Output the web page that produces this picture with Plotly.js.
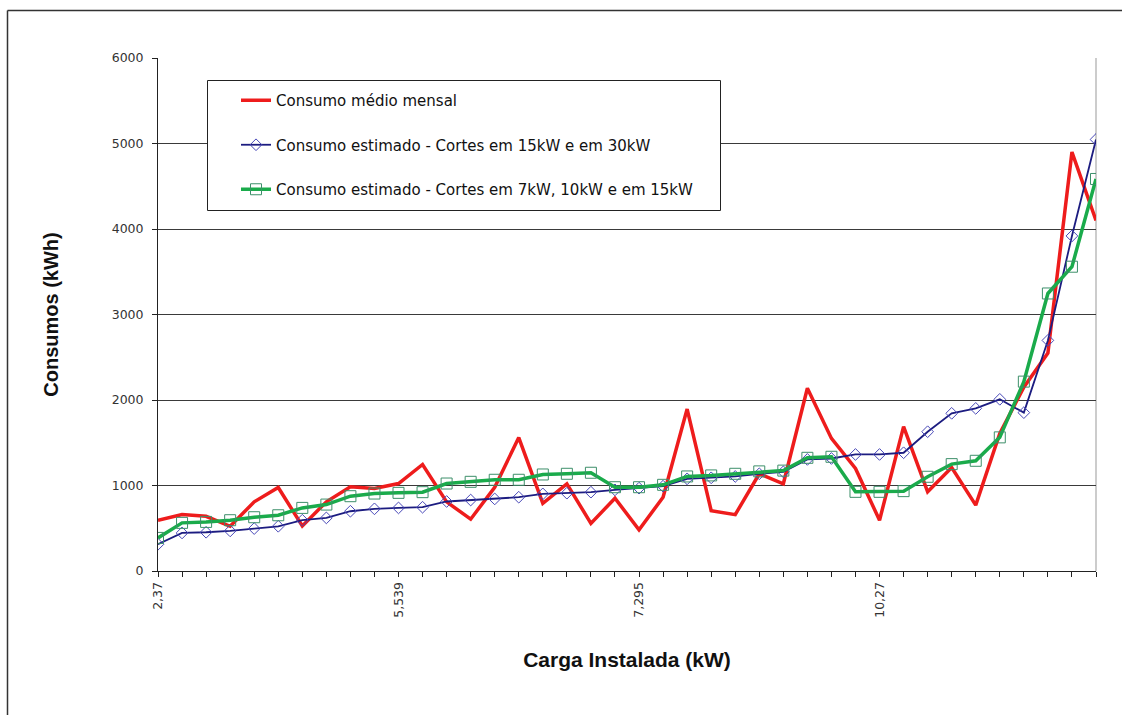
<!DOCTYPE html>
<html>
<head>
<meta charset="utf-8">
<script src="https://cdn.plot.ly/plotly-3.0.1.min.js"></script>
<style>
  html, body { margin: 0; padding: 0; background: #fff; overflow: hidden; }
  #chart { width: 1122px; height: 715px; }
</style>
</head>
<body>
<div id="chart"></div>
<script>
// ---- Data ----
const categoryIndex = Array.from({length: 40}, (_, i) => i);
const tickLabels = ['2,37', '5,539', '7,295', '10,27'];
const labelEvery = 10;

const seriesNames = [
  'Consumo médio mensal',
  'Consumo estimado - Cortes em 15kW e em 30kW',
  'Consumo estimado - Cortes em 7kW, 10kW e em 15kW'
];

const consumoMedio = [594, 660, 640, 523, 809, 977, 527, 809, 984, 965,
  1023, 1246, 809, 606, 980, 1561, 792, 1020, 557, 851,
  482, 863, 1894, 706, 659, 1137, 1020, 2137, 1551, 1199,
  594, 1688, 926, 1211, 770, 1609, 2150, 2550, 4900, 4100];

const estimado15_30 = [313, 445, 453, 469, 496, 523, 594, 621, 699, 727,
  738, 746, 813, 830, 843, 863, 902, 910, 922, 949,
  969, 992, 1078, 1090, 1106, 1137, 1160, 1305, 1316, 1363,
  1363, 1383, 1629, 1844, 1902, 2008, 1852, 2697, 3919, 5047];

const estimado7_10_15 = [387, 563, 574, 594, 629, 652, 738, 777, 875, 906,
  914, 922, 1023, 1043, 1067, 1067, 1129, 1137, 1149, 980,
  980, 1008, 1106, 1118, 1137, 1165, 1174, 1324, 1336, 926,
  926, 934, 1102, 1250, 1289, 1563, 2215, 3246, 3559, 4585];

// ---- Build tick text ----
const tickText = categoryIndex.map(i => (i % labelEvery === 0 ? (tickLabels[i / labelEvery] || '') : ''));

const FONT = 'Arial, "Liberation Sans", sans-serif';
const WIDEFONT = '"DejaVu Sans", Verdana, sans-serif';

const traces = [
  {
    x: categoryIndex, y: consumoMedio, name: seriesNames[0],
    type: 'scatter', mode: 'lines',
    line: {color: '#ee1c1c', width: 3.5},
    legendgroup: 'a'
  },
  {
    x: categoryIndex, y: estimado15_30, name: seriesNames[1],
    type: 'scatter', mode: 'lines+markers',
    line: {color: '#1c1c80', width: 1.8},
    marker: {symbol: 'diamond-open', size: 9, color: '#4848b8', line: {width: 1, color: '#4848b8'}},
    legendgroup: 'b'
  },
  {
    x: categoryIndex, y: estimado7_10_15, name: seriesNames[2],
    type: 'scatter', mode: 'lines+markers',
    line: {color: '#1aab4b', width: 3.5},
    marker: {symbol: 'square-open', size: 11, color: '#3d8f6a', line: {width: 1, color: '#3d8f6a'}},
    legendgroup: 'c'
  }
];

// plot area in px: left 158, right 1096, top 58, bottom 571
const PL = 158, PR = 1096, PT = 58, PB = 571;
const px2x = p => (p - PL) / (PR - PL);
const px2y = p => (PB - p) / (PB - PT);

const layout = {
  width: 1122, height: 715,
  margin: {l: PL, r: 1122 - PR, t: PT, b: 715 - PB, pad: 0},
  paper_bgcolor: '#ffffff',
  plot_bgcolor: '#ffffff',
  font: {family: FONT, size: 12, color: '#222'},
  showlegend: true,
  legend: {
    x: px2x(236), y: px2y(84), xanchor: 'left', yanchor: 'top',
    bgcolor: 'rgba(0,0,0,0)', borderwidth: 0,
    font: {family: WIDEFONT, size: 15, color: '#111'},
    traceorder: 'grouped', tracegroupgap: 22
  },
  xaxis: {
    range: [0, 39],
    tickmode: 'array', tickvals: categoryIndex, ticktext: tickText,
    tickangle: -90,
    ticks: 'outside', ticklen: 5, tickcolor: '#222', tickwidth: 1,
    tickfont: {family: WIDEFONT, size: 12.5, color: '#333'},
    showline: true, linecolor: '#222', linewidth: 1,
    showgrid: false, zeroline: false,
    title: {text: 'Carga Instalada (kW)', font: {family: FONT, size: 21, color: '#111', weight: 'bold'}, standoff: 35}
  },
  yaxis: {
    range: [0, 6000], dtick: 1000, tick0: 0,
    ticks: 'outside', ticklen: 5, tickcolor: '#222', tickwidth: 1,
    ticklabelstandoff: 6,
    tickfont: {family: WIDEFONT, size: 12.5, color: '#333'},
    showline: true, linecolor: '#222', linewidth: 1,
    showgrid: true, gridcolor: '#3a3a3a', gridwidth: 1,
    zeroline: false,
    title: {text: 'Consumos (kWh)', font: {family: FONT, size: 20, color: '#111', weight: 'bold'}, standoff: 47}
  },
  shapes: [
    // outer chart border: top and left edges only (others run off the picture)
    {type: 'line', xref: 'paper', yref: 'paper', layer: 'below',
     x0: px2x(7.5), x1: px2x(1400), y0: px2y(10.5), y1: px2y(10.5),
     line: {color: '#333', width: 1.5}},
    {type: 'line', xref: 'paper', yref: 'paper', layer: 'below',
     x0: px2x(7.5), x1: px2x(7.5), y0: px2y(10.5), y1: px2y(1000),
     line: {color: '#333', width: 1.5}},
    // right edge of plot area
    {type: 'line', xref: 'paper', yref: 'paper', layer: 'below',
     x0: 1, x1: 1, y0: 0, y1: 1, line: {color: '#999', width: 1}},
    // legend box
    {type: 'rect', xref: 'paper', yref: 'paper', layer: 'above',
     x0: px2x(207.5), x1: px2x(720.5), y0: px2y(210.5), y1: px2y(80.5),
     line: {color: '#222', width: 1}, fillcolor: '#ffffff'}
  ]
};

Plotly.newPlot('chart', traces, layout, {displayModeBar: false, staticPlot: true});
</script>
</body>
</html>
